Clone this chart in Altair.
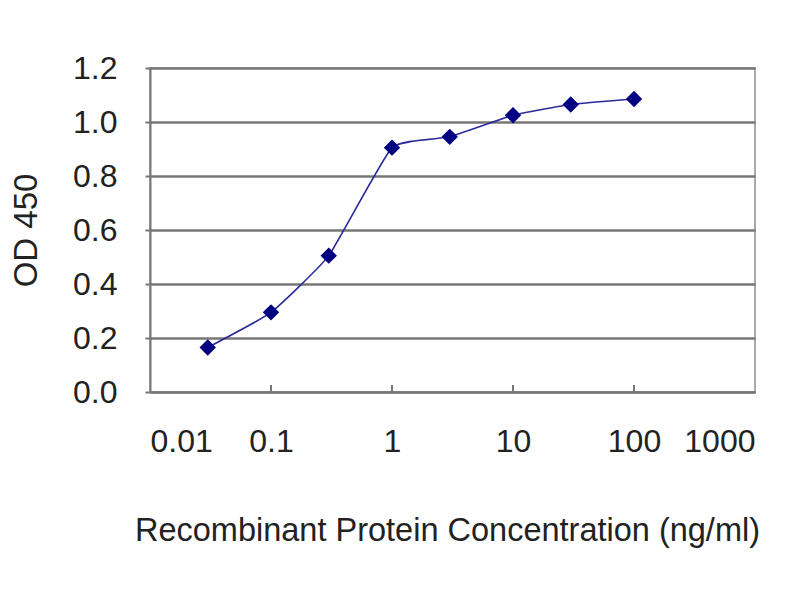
import altair as alt
import pandas as pd

# ELISA standard curve, OD 450 vs recombinant protein concentration
concentration = [0.03, 0.1, 0.3, 1, 3, 10, 30, 100]
od450 = [0.165, 0.295, 0.505, 0.905, 0.945, 1.025, 1.065, 1.085]

x_ticks = [0.01, 0.1, 1, 10, 100, 1000]
y_ticks = [0.0, 0.2, 0.4, 0.6, 0.8, 1.0, 1.2]

FONT = "Liberation Sans"
W, H = 605, 324

df = pd.DataFrame({"conc": concentration, "od": od450})
ticks_df = pd.DataFrame({"tx": x_ticks[1:-1]})

x_scale = alt.Scale(type="log", domain=[0.01, 1000])
y_scale = alt.Scale(domain=[0, 1.2])

x_axis = alt.Axis(values=x_ticks, format="~g", grid=False, tickSize=0,
                  labelPadding=34, labelFontSize=32, labelFont=FONT, labelColor="#222",
                  domainColor="#777", domainWidth=2,
                  title="Recombinant Protein Concentration (ng/ml)",
                  titleFont=FONT, titleFontSize=32.5, titleFontWeight="normal",
                  titleColor="#222", titleX=297, titleY=138, titleBaseline="middle")

y_axis = alt.Axis(values=y_ticks, format=".1f", grid=True, gridColor="#777", gridWidth=2.5,
                  tickSize=5, tickColor="#777", tickWidth=2,
                  labelPadding=28, labelFontSize=32, labelFont=FONT, labelColor="#222",
                  domainColor="#777", domainWidth=2,
                  title="OD 450", titleFont=FONT, titleFontSize=33, titleFontWeight="normal",
                  titleColor="#222", titleX=-124, titleY=162, titleAlign="center",
                  titleBaseline="middle", titleAngle=-90)

line = alt.Chart(df).mark_line(color="#2a2a9a", strokeWidth=1.6,
                               interpolate="cardinal", tension=0.6).encode(
    x=alt.X("conc:Q", scale=x_scale, axis=x_axis),
    y=alt.Y("od:Q", scale=y_scale, axis=y_axis),
)

points = alt.Chart(df).mark_point(shape="diamond", filled=True, color="#000080",
                                  size=270, opacity=1).encode(
    x=alt.X("conc:Q", scale=x_scale),
    y=alt.Y("od:Q", scale=y_scale),
)

inner_ticks = alt.Chart(ticks_df).mark_rule(color="#777", strokeWidth=2).encode(
    x=alt.X("tx:Q", scale=x_scale),
    y=alt.value(H),
    y2=alt.value(H - 7),
)

chart = alt.layer(line, inner_ticks, points).properties(
    width=W, height=H,
    autosize=alt.AutoSizeParams(type="none"),
    padding={"left": 142, "top": 60, "right": 37, "bottom": 200},
    background="white",
).configure_view(stroke="#aaa", strokeWidth=2)

chart.save("out.html", embed_options={"renderer": "svg", "actions": False})
